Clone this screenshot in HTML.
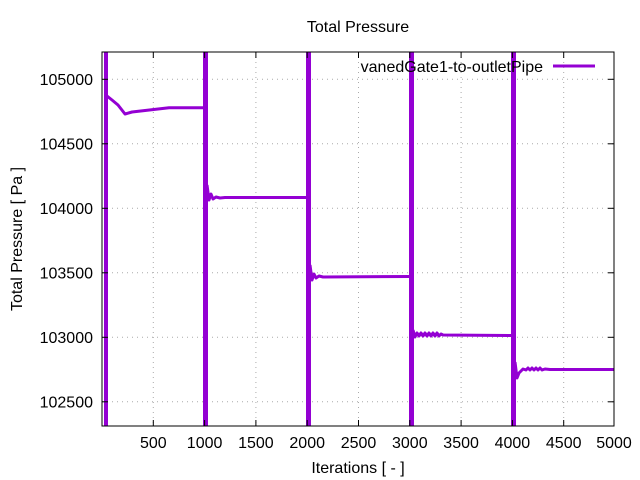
<!DOCTYPE html>
<html><head><style>body{margin:0;background:#fff}svg{display:block}text{font-family:"Liberation Sans",sans-serif;font-size:16px;fill:#000}</style></head><body>
<svg width="640" height="480" viewBox="0 0 640 480">
<g stroke="#aaa" stroke-width="1" stroke-dasharray="1,4">
<line x1="153.3" y1="52" x2="153.3" y2="426"/><line x1="204.6" y1="52" x2="204.6" y2="426"/><line x1="255.9" y1="52" x2="255.9" y2="426"/><line x1="307.2" y1="52" x2="307.2" y2="426"/><line x1="358.5" y1="52" x2="358.5" y2="426"/><line x1="409.8" y1="52" x2="409.8" y2="426"/><line x1="461.1" y1="52" x2="461.1" y2="426"/><line x1="512.4" y1="52" x2="512.4" y2="426"/><line x1="563.7" y1="52" x2="563.7" y2="426"/>
<line x1="102" y1="79.3" x2="614" y2="79.3"/><line x1="102" y1="143.8" x2="614" y2="143.8"/><line x1="102" y1="208.3" x2="614" y2="208.3"/><line x1="102" y1="272.8" x2="614" y2="272.8"/><line x1="102" y1="337.3" x2="614" y2="337.3"/><line x1="102" y1="401.8" x2="614" y2="401.8"/>
</g>
<g fill="#9400d3">
<rect x="104" y="52" width="4" height="374"/>
<rect x="203" y="52" width="5" height="374"/>
<rect x="306" y="52" width="5" height="374"/>
<rect x="409" y="52" width="5" height="374"/>
<rect x="511" y="52" width="5" height="374"/>
</g>
<g fill="none" stroke="#9400d3" stroke-width="3" stroke-linejoin="round">
<path d="M107,96 L112,100 L118,105 L125,114 L132,112 L169,107.7 L205,107.7"/>
<path d="M207,185 L209,200 L211,194 L213,199 L216,197 L220,198 L225,197.5 L308,197.5"/>
<path d="M310,265 L312,280 L314,274 L316,278 L319,276 L323,277 L410,276.5"/>
<path d="M413,330 L415,337 L417,333 L419,336 L421,333 L423,336 L425,333 L427,336 L429,333 L431,336 L433,333 L435,336 L437,333 L439,336 L441,334 L443,335 L512,335.5"/>
<path d="M515,362 L517,378 L519,373 L521,371 L523,369 L526,370 L528,368 L530,370 L532,368 L534,370 L536,368 L538,370 L540,368 L542,370 L545,369 L550,369.5 L614,369.5"/>
</g>
<rect x="102" y="52" width="512" height="374" fill="none" stroke="#000" stroke-width="1"/>
<g stroke="#000" stroke-width="1">
<line x1="153.3" y1="426" x2="153.3" y2="420"/><line x1="204.6" y1="426" x2="204.6" y2="420"/><line x1="255.9" y1="426" x2="255.9" y2="420"/><line x1="307.2" y1="426" x2="307.2" y2="420"/><line x1="358.5" y1="426" x2="358.5" y2="420"/><line x1="409.8" y1="426" x2="409.8" y2="420"/><line x1="461.1" y1="426" x2="461.1" y2="420"/><line x1="512.4" y1="426" x2="512.4" y2="420"/><line x1="563.7" y1="426" x2="563.7" y2="420"/>
<line x1="153.3" y1="52" x2="153.3" y2="58"/><line x1="204.6" y1="52" x2="204.6" y2="58"/><line x1="255.9" y1="52" x2="255.9" y2="58"/><line x1="307.2" y1="52" x2="307.2" y2="58"/><line x1="358.5" y1="52" x2="358.5" y2="58"/><line x1="409.8" y1="52" x2="409.8" y2="58"/><line x1="461.1" y1="52" x2="461.1" y2="58"/><line x1="512.4" y1="52" x2="512.4" y2="58"/><line x1="563.7" y1="52" x2="563.7" y2="58"/>
<line x1="102" y1="79.3" x2="108" y2="79.3"/><line x1="102" y1="143.8" x2="108" y2="143.8"/><line x1="102" y1="208.3" x2="108" y2="208.3"/><line x1="102" y1="272.8" x2="108" y2="272.8"/><line x1="102" y1="337.3" x2="108" y2="337.3"/><line x1="102" y1="401.8" x2="108" y2="401.8"/>
<line x1="614" y1="79.3" x2="608" y2="79.3"/><line x1="614" y1="143.8" x2="608" y2="143.8"/><line x1="614" y1="208.3" x2="608" y2="208.3"/><line x1="614" y1="272.8" x2="608" y2="272.8"/><line x1="614" y1="337.3" x2="608" y2="337.3"/><line x1="614" y1="401.8" x2="608" y2="401.8"/>
</g>
<g text-anchor="end">
<text x="93" y="85">105000</text><text x="93" y="149.5">104500</text><text x="93" y="214">104000</text><text x="93" y="278.5">103500</text><text x="93" y="343">103000</text><text x="93" y="407.5">102500</text>
</g>
<g text-anchor="middle">
<text x="153.3" y="448">500</text><text x="204.6" y="448">1000</text><text x="255.9" y="448">1500</text><text x="307.2" y="448">2000</text><text x="358.5" y="448">2500</text><text x="409.8" y="448">3000</text><text x="461.1" y="448">3500</text><text x="512.4" y="448">4000</text><text x="563.7" y="448">4500</text><text x="614" y="448">5000</text>
<text x="358" y="32">Total Pressure</text>
<text x="358" y="473">Iterations [ - ]</text>
<text transform="translate(22,239) rotate(-90)">Total Pressure [ Pa ]</text>
</g>
<text x="543" y="72" text-anchor="end">vanedGate1-to-outletPipe</text>
<line x1="553" y1="66" x2="595" y2="66" stroke="#9400d3" stroke-width="3"/>
</svg>
</body></html>
